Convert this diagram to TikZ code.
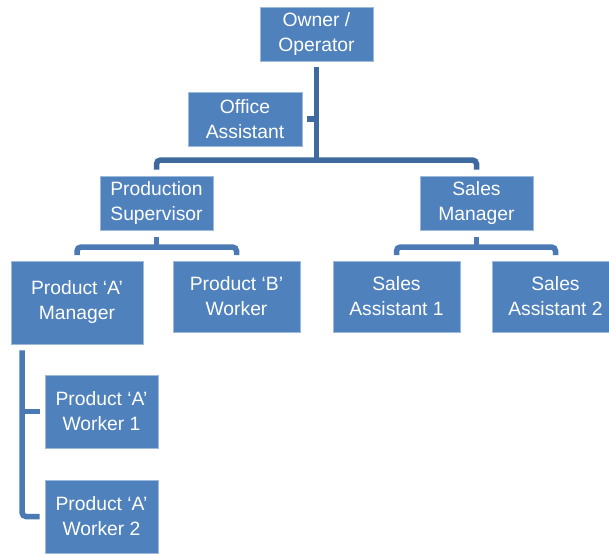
\documentclass[tikz,border=0pt]{standalone}
\usepackage{fontspec}
\setmainfont{Liberation Sans}
\usetikzlibrary{calc}
\definecolor{boxfill}{HTML}{4F81BD}
\definecolor{boxedge}{HTML}{9DB9DC}
\definecolor{trunk}{HTML}{3E6A9E}
\definecolor{branch}{HTML}{4A79B4}
\begin{document}
\begin{tikzpicture}[x=1pt,y=1pt,
  role/.style={draw=boxedge, line width=0.8pt, fill=boxfill, text=white,
    align=center, inner sep=0pt, font=\fontsize{19.3}{25}\selectfont},
  conn/.style={draw=trunk, line width=5.5pt, rounded corners=4pt},
  subconn/.style={draw=branch, line width=5.5pt, rounded corners=4pt}]
\useasboundingbox (0,0) rectangle (609,-554);

% staff boxes
\node[role, minimum width=113, minimum height=54] (owner) at (316.5,-34) {Owner /\\Operator};
\node[role, minimum width=114, minimum height=54] (office) at (245,-119) {Office\\Assistant};
\node[role, minimum width=113, minimum height=54] (prod) at (156.5,-203) {Production\\Supervisor};
\node[role, minimum width=113, minimum height=54] (sales) at (476.5,-203) {Sales\\Manager};
\node[role, minimum width=132, minimum height=83] (pam) at (77,-302.5) {Product ‘A’\\Manager};
\node[role, minimum width=127, minimum height=71] (pbw) at (236.5,-296.5) {Product ‘B’\\Worker};
\node[role, minimum width=127, minimum height=71] (sa1) at (396.5,-296.5) {Sales\\Assistant 1};
\node[role, minimum width=127, minimum height=71] (sa2) at (555.5,-296.5) {Sales\\Assistant 2};
\node[role, minimum width=113, minimum height=73] (w1) at (101.5,-411.5) {Product ‘A’\\Worker 1};
\node[role, minimum width=113, minimum height=73] (w2) at (101.5,-516.5) {Product ‘A’\\Worker 2};

% junction points
\coordinate (bar) at (316.5,-160);
\coordinate (pbar) at (156.5,-247);
\coordinate (sbar) at (476.5,-247);
\coordinate (lx) at (22,0);

% owner trunk and top-level split
\draw[conn] ([yshift=-6pt]owner.south) -- (bar);
\draw[conn] ([yshift=6pt]prod.north) |- (bar) -| ([yshift=6pt]sales.north);
\draw[conn] ([xshift=5pt]office.east) -- (office.east -| owner.south);

% production branch
\draw[subconn] ([yshift=-7pt]prod.south) -- (pbar);
\draw[subconn] ([yshift=5.5pt]pam.north) |- (pbar) -| ([yshift=5.5pt]pbw.north);

% sales branch
\draw[subconn] ([yshift=-7pt]sales.south) -- (sbar);
\draw[subconn] ([yshift=5.5pt]sa1.north) |- (sbar) -| ([yshift=5.5pt]sa2.north);

% product A workers
\draw[subconn] ([yshift=-6pt]pam.south -| lx) |- ([xshift=-5pt]w2.west);
\draw[subconn, rounded corners=0pt] ([xshift=-5pt]w1.west) -- (w1.west -| lx);
\end{tikzpicture}
\end{document}
